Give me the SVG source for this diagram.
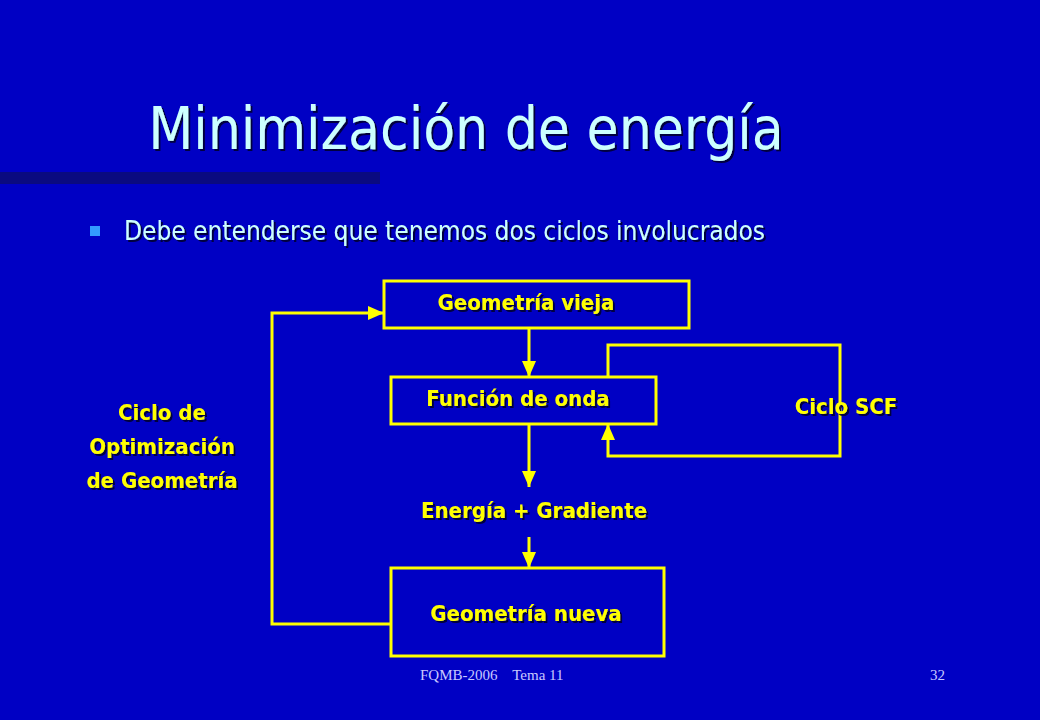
<svg xmlns="http://www.w3.org/2000/svg" width="1040" height="720" viewBox="0 0 1040 720">
<defs>
<style>
.t{font-family:"DejaVu Sans Condensed","DejaVu Sans",sans-serif;filter:url(#sh);}
.y{fill:#FFFF00;font-size:22px;font-weight:bold;text-anchor:middle;}
.box{fill:none;stroke:#FFFF00;stroke-width:3;}
.ln{fill:none;stroke:#FFFF00;stroke-width:3;}
.f{font-family:"Liberation Serif",serif;font-size:15px;fill:#C8C8FF;}
</style>
<filter id="sh" x="-10%" y="-30%" width="120%" height="160%">
<feDropShadow dx="2" dy="2" stdDeviation="0.5" flood-color="#000030" flood-opacity="0.9"/>
</filter>
<marker id="a" viewBox="0 0 16 14" refX="16" refY="7" markerWidth="16" markerHeight="14" orient="auto" markerUnits="userSpaceOnUse">
<path d="M0,0 L16,7 L0,14 z" fill="#FFFF00"/>
</marker>
</defs>
<rect width="1040" height="720" fill="#0000C4"/>
<rect x="0" y="172" width="380" height="12" fill="#0A0A80"/>
<text class="t" x="466" y="149" font-size="58" text-anchor="middle" fill="#CCFFFF">Minimización de energía</text>
<rect x="90" y="226" width="10" height="10" fill="#3399FF"/>
<text class="t" x="124" y="240" font-size="26" fill="#CCFFFF">Debe entenderse que tenemos dos ciclos involucrados</text>
<g id="connectors">
<path class="ln" d="M529,328 V377" marker-end="url(#a)"/>
<path class="ln" d="M529,424 V487" marker-end="url(#a)"/>
<path class="ln" d="M529,537 V568" marker-end="url(#a)"/>
<path class="ln" d="M391,624 H272 V313 H384" marker-end="url(#a)"/>
<path class="ln" d="M608,377 V345 H840 V456 H608 V424" marker-end="url(#a)"/>
</g>
<g id="geom-vieja">
<rect class="box" x="384" y="281" width="305" height="47"/>
<text class="t y" x="526" y="310">Geometría vieja</text>
</g>
<g id="funcion-onda">
<rect class="box" x="391" y="377" width="265" height="47"/>
<text class="t y" x="518" y="406">Función de onda</text>
</g>
<g id="energia">
<text class="t y" x="534" y="518">Energía + Gradiente</text>
</g>
<g id="geom-nueva">
<rect class="box" x="391" y="568" width="273" height="88"/>
<text class="t y" x="526" y="621">Geometría nueva</text>
</g>
<g id="ciclo-scf">
<text class="t y" x="846" y="414">Ciclo SCF</text>
</g>
<g id="ciclo-opt">
<text class="t y" x="162" y="420">Ciclo de</text>
<text class="t y" x="162" y="454">Optimización</text>
<text class="t y" x="162" y="488">de Geometría</text>
</g>
<text class="f" x="420" y="680" xml:space="preserve">FQMB-2006    Tema 11</text>
<text class="f" x="930" y="680">32</text>
</svg>
